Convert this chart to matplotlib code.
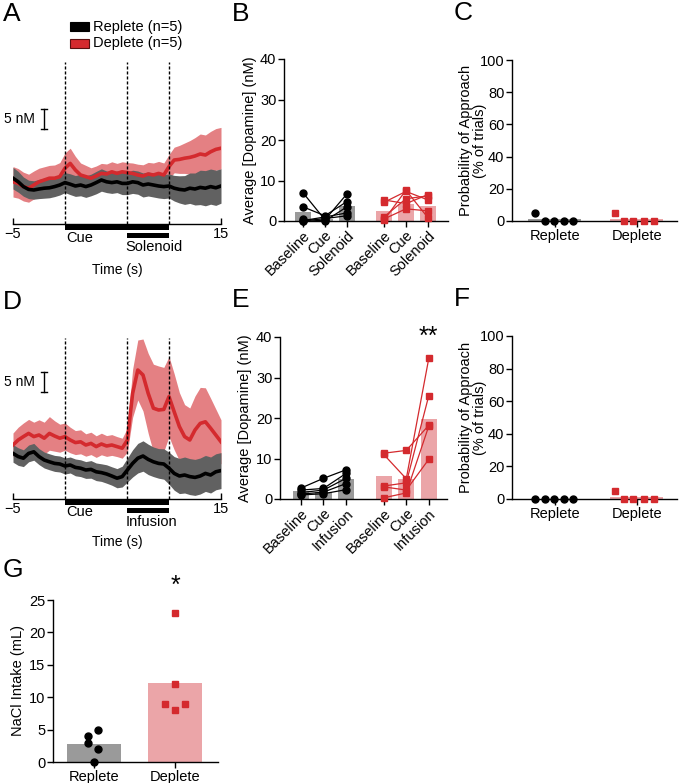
import numpy as np
import matplotlib
matplotlib.use('Agg')
import matplotlib.pyplot as plt
from matplotlib.patches import Rectangle

plt.rcParams['font.family'] = ['Liberation Sans', 'DejaVu Sans']
plt.rcParams['axes.linewidth'] = 1.0

# ---- trace data (nM, 0.5 s steps from -5 to 15 s) ----
t = np.linspace(-5, 15, 41)

a_rep = [1.7, 0.8, -0.4, -1.1, -1.25, -1.0, -0.8, -0.7, -0.4, 0.0,
         0.6, 0.2, -0.25, 0.0, -0.4, 0.0, 0.6, 1.25, 0.8, 0.6,
         0.8, 0.4, 0.4, 0.8, 0.6, 0.0, 0.25, 0.0, -0.25, -0.4,
         -0.25, -0.8, -1.1, -1.25, -0.8, -1.0, -0.6, -0.8, -0.4, -0.7, -0.25]
a_rep_sem = [2.7, 2.6, 2.4, 2.3, 2.3, 2.4, 2.5, 2.5, 2.5, 2.5,
             2.5, 2.6, 2.6, 2.7, 2.7, 2.7, 2.8, 2.8, 2.7, 2.7,
             2.7, 2.8, 2.8, 2.9, 2.9, 3.0, 3.0, 3.0, 3.0, 3.0,
             3.0, 3.2, 3.4, 3.6, 3.8, 4.0, 4.3, 4.4, 4.4, 4.4, 4.3]
a_dep = [0.8, 0.4, -0.4, -0.8, 0.0, 0.8, 1.25, 1.7, 1.7, 2.1,
         4.2, 5.4, 3.75, 2.5, 2.1, 1.7, 2.25, 2.9, 2.75, 3.3,
         2.9, 3.3, 3.1, 2.9, 2.5, 2.25, 2.75, 2.5, 2.9, 2.5,
         4.6, 6.25, 6.4, 6.7, 6.9, 7.25, 7.75, 7.5, 8.3, 8.9, 9.2]
a_dep_sem = [3.8, 3.7, 3.6, 3.5, 3.5, 3.4, 3.3, 3.2, 3.3, 3.5,
             3.8, 3.8, 3.4, 3.0, 2.8, 2.6, 2.5, 2.5, 2.5, 2.5,
             2.5, 2.5, 2.5, 2.6, 2.7, 2.8, 2.9, 3.0, 3.0, 3.0,
             3.0, 3.2, 3.5, 3.8, 4.2, 4.6, 5.0, 5.0, 5.1, 5.2, 5.2]

d_rep = [0.4, -0.4, -0.8, 0.4, 0.8, -0.4, -1.25, -1.7, -2.1, -2.25,
         -2.75, -2.5, -3.1, -3.3, -3.75, -3.6, -4.2, -4.4, -4.75, -5.25,
         -5.8, -5.4, -3.75, -2.1, -0.8, -0.25, -1.1, -1.7, -2.1, -2.25,
         -3.3, -4.6, -5.25, -5.0, -5.4, -5.6, -5.25, -4.6, -5.0, -4.2, -3.9]
d_rep_sem = [2.2, 2.2, 2.1, 2.1, 2.1, 2.0, 2.0, 2.0, 2.0, 2.0,
             2.0, 2.0, 2.1, 2.1, 2.1, 2.2, 2.2, 2.2, 2.3, 2.3,
             2.4, 2.6, 3.0, 3.4, 3.7, 3.8, 3.8, 3.7, 3.7, 3.8,
             4.0, 4.2, 4.4, 4.5, 4.5, 4.5, 4.5, 4.5, 4.5, 4.5, 4.5]
d_dep = [2.5, 3.75, 4.6, 5.4, 4.6, 5.0, 4.2, 5.4, 4.75, 4.2,
         4.6, 3.75, 3.1, 3.3, 2.5, 2.9, 2.1, 2.75, 2.25, 2.5,
         2.1, 1.7, 3.75, 15.4, 21.25, 20.0, 15.4, 11.7, 11.25, 11.4,
         14.6, 10.8, 7.1, 4.6, 3.75, 6.25, 7.9, 8.3, 6.7, 5.0, 3.3]
d_dep_sem = [3.0, 3.2, 3.4, 3.5, 3.6, 3.8, 4.0, 4.2, 3.8, 3.5,
             3.4, 3.2, 3.0, 3.0, 2.8, 2.8, 2.7, 2.7, 2.6, 2.6,
             2.5, 2.5, 3.0, 6.0, 7.5, 9.0, 10.0, 11.0, 11.0, 10.5,
             10.0, 9.5, 8.5, 8.0, 8.0, 8.5, 9.0, 8.5, 7.5, 6.5, 5.5]

# ---- epoch averages (nM), one row per animal: baseline, cue, outcome ----
b_rep = [[7.0, 0.3, 6.7], [3.5, 1.3, 4.8], [0.4, 0.0, 3.5], [0.1, 1.0, 2.0], [0.0, 0.6, 1.3]]
b_dep = [[5.2, 4.3, 6.5], [4.6, 7.3, 5.2], [0.2, 7.6, 0.8], [0.5, 3.0, 2.5], [1.0, 5.5, 6.2]]
b_rep_bar = [2.3, 0.6, 3.6]
b_dep_bar = [2.4, 4.3, 3.7]
b_labels = ['Baseline', 'Cue', 'Solenoid'] * 2

e_rep = [[2.7, 5.1, 7.2], [2.2, 2.6, 6.3], [1.6, 2.2, 5.1], [1.2, 1.7, 3.8], [1.0, 1.3, 2.3]]
e_dep = [[11.3, 12.0, 18.2], [11.0, 5.0, 34.7], [3.2, 4.0, 25.5], [3.0, 2.2, 9.8], [0.3, 1.5, 18.0]]
e_rep_bar = [1.9, 1.8, 4.9]
e_dep_bar = [5.8, 5.0, 19.8]
e_labels = ['Baseline', 'Cue', 'Infusion'] * 2

# ---- approach probability (% of trials) ----
groups = ['Replete', 'Deplete']
c_rep = [5, 0, 0, 0, 0]
c_dep = [5, 0, 0, 0, 0]
f_rep = [0, 0, 0, 0, 0]
f_dep = [5, 0, 0, 0, 0]
c_bar = [1, 1]
f_bar = [0, 1]
rep_jit = [-0.24, -0.12, -0.01, 0.11, 0.22]
dep_jit = [-0.27, -0.15, -0.04, 0.09, 0.21]

# ---- NaCl intake (mL) ----
g_rep = [4, 5, 3, 2, 0]
g_dep = [23, 12, 9, 9, 8]
g_bar = [2.8, 12.2]
g_rep_jit = [-0.075, 0.05, -0.075, 0.05, 0.0]
g_dep_jit = [0.0, 0.0, -0.12, 0.12, 0.0]

RED = '#D42A2E'
RED_BAND = '#E48083'
GREY_BAND = '#616161'
GREY_BAR = '#9A9A9A'
PINK_BAR = '#EBA5A8'
FS = 10.5

W, H = 679, 783
fig = plt.figure(figsize=(W / 100, H / 100), dpi=100)


def box(l, t_, r, b):
    return [l / W, 1 - b / H, (r - l) / W, (b - t_) / H]


def trace_panel(rect, blk, blk_sem, red, red_sem, ylim, outcome, lab_y, scale_y0):
    ax = fig.add_axes(rect)
    blk, blk_sem, red, red_sem = map(np.array, (blk, blk_sem, red, red_sem))
    ax.fill_between(t, red - red_sem, red + red_sem, color=RED_BAND, lw=0)
    ax.fill_between(t, blk - blk_sem, blk + blk_sem, color=GREY_BAND, lw=0)
    ax.plot(t, red, color=RED, lw=2.6)
    ax.plot(t, blk, color='k', lw=2.6)
    for x in [0, 6, 10]:
        ax.axvline(x, color='k', ls=(0, (2.2, 1.4)), lw=1)
    ax.set_xlim(-5, 15)
    ax.set_ylim(ylim)
    for s in ['left', 'top', 'right']:
        ax.spines[s].set_visible(False)
    ax.set_yticks([])
    ax.set_xticks([-5, 15])
    ax.set_xticklabels(['\u22125', '15'])
    ax.tick_params(axis='x', direction='in', length=4, width=1, pad=2, labelsize=FS)
    tr = ax.get_xaxis_transform()
    ax.add_patch(Rectangle((0, -0.038), 10, 0.038, transform=tr, clip_on=False, color='k', lw=0))
    ax.add_patch(Rectangle((6, -0.085), 4, 0.028, transform=tr, clip_on=False, color='k', lw=0))
    ax.text(0.1, lab_y[0], 'Cue', transform=tr, fontsize=FS, va='center', ha='left')
    ax.text(5.8, lab_y[1], outcome, transform=tr, fontsize=FS, va='center', ha='left')
    ax.text(5, lab_y[2], 'Time (s)', transform=tr, fontsize=FS - 0.5, va='center', ha='center')
    # 5 nM scale bar
    ax.plot([-2, -2], [scale_y0, scale_y0 + 5], color='k', lw=1)
    ax.plot([-2.3, -1.7], [scale_y0, scale_y0], color='k', lw=1)
    ax.plot([-2.3, -1.7], [scale_y0 + 5, scale_y0 + 5], color='k', lw=1)
    ax.text(-2.9, scale_y0 + 2.5, '5 nM', fontsize=FS - 0.5, ha='right', va='center')
    return ax


def style_axes(ax):
    for s in ['top', 'right']:
        ax.spines[s].set_visible(False)
    ax.tick_params(direction='out', length=4, width=1, labelsize=FS, pad=1.5)


def epoch_panel(rect, rep, dep, rep_bar, dep_bar, labels, xlim):
    ax = fig.add_axes(rect)
    pr = [0, 1, 2]
    pd_ = [3.68, 4.68, 5.68]
    ax.bar(pr, rep_bar, width=0.72, color=GREY_BAR, lw=0)
    ax.bar(pd_, dep_bar, width=0.72, color=PINK_BAR, lw=0)
    for s in rep:
        ax.plot(pr, s, '-o', color='k', ms=5, lw=0.9, clip_on=False, zorder=3)
    for s in dep:
        ax.plot(pd_, s, '-s', color=RED, ms=5, lw=0.9, clip_on=False, zorder=3)
    ax.set_xlim(xlim)
    ax.set_ylim(0, 40)
    ax.set_yticks([0, 10, 20, 30, 40])
    ax.set_xticks(pr + pd_)
    ax.set_xticklabels(labels, rotation=45, ha='right', va='top', rotation_mode='anchor')
    style_axes(ax)
    ax.set_ylabel('Average [Dopamine] (nM)', fontsize=FS)
    ax.yaxis.set_label_coords(-0.165, 0.5)
    return ax


def approach_panel(rect, rep, dep, bars):
    ax = fig.add_axes(rect)
    ax.bar([0, 1], bars, width=0.65, color=[GREY_BAR, PINK_BAR], lw=0)
    ax.plot(np.array(rep_jit), rep, 'o', color='k', ms=5, ls='none', clip_on=False, zorder=3)
    ax.plot(1 + np.array(dep_jit), dep, 's', color=RED, ms=5, ls='none', clip_on=False, zorder=3)
    ax.set_xlim(-0.52, 1.49)
    ax.set_ylim(0, 100)
    ax.set_yticks([0, 20, 40, 60, 80, 100])
    ax.set_xticks([0, 1])
    ax.set_xticklabels(groups)
    style_axes(ax)
    ax.tick_params(axis='x', pad=2)
    ax.set_ylabel('Probability of Approach\n(% of trials)', fontsize=FS, linespacing=1.05)
    ax.yaxis.set_label_coords(-0.15, 0.5)
    return ax


# A / D traces
trace_panel(box(13, 62, 221, 224), a_rep, a_rep_sem, a_dep, a_dep_sem,
            (-9.75, 30.75), 'Solenoid', (-0.087, -0.145, -0.285), 14)
trace_panel(box(13, 338, 221, 499), d_rep, d_rep_sem, d_dep, d_dep_sem,
            (-11, 29.25), 'Infusion', (-0.08, -0.143, -0.27), 15.75)

# legend (A)
fig.add_artist(Rectangle((70 / W, 1 - 31 / H), 19 / W, 9 / H, transform=fig.transFigure,
                         facecolor='k', edgecolor='k', lw=0.8))
fig.add_artist(Rectangle((70 / W, 1 - 48 / H), 19 / W, 9 / H, transform=fig.transFigure,
                         facecolor=RED, edgecolor='#5a1010', lw=0.8))
fig.text(93 / W, 1 - 26.5 / H, 'Replete (n=5)', fontsize=FS, va='center', ha='left')
fig.text(93 / W, 1 - 43.5 / H, 'Deplete (n=5)', fontsize=FS, va='center', ha='left')

# B / E
epoch_panel(box(284, 59, 448, 221), b_rep, b_dep, b_rep_bar, b_dep_bar, b_labels, (-0.86, 6.59))
axE = epoch_panel(box(280, 337, 447, 499), e_rep, e_dep, e_rep_bar, e_dep_bar, e_labels, (-0.93, 6.49))
axE.text(5.68, 40.0, '**', fontsize=18, ha='center', va='center')

# C / F
approach_panel(box(512, 60, 677, 221), c_rep, c_dep, c_bar)
approach_panel(box(512, 336, 677, 499), f_rep, f_dep, f_bar)

# G
axG = fig.add_axes(box(53, 600, 218, 762))
axG.bar([0, 1], g_bar, width=0.67, color=[GREY_BAR, PINK_BAR], lw=0)
axG.plot(np.array(g_rep_jit), g_rep, 'o', color='k', ms=5, ls='none', clip_on=False, zorder=3)
axG.plot(1 + np.array(g_dep_jit), g_dep, 's', color=RED, ms=5, ls='none', clip_on=False, zorder=3)
axG.set_xlim(-0.51, 1.53)
axG.set_ylim(0, 25)
axG.set_yticks([0, 5, 10, 15, 20, 25])
axG.set_xticks([0, 1])
axG.set_xticklabels(groups)
style_axes(axG)
axG.tick_params(axis='x', pad=2)
axG.set_ylabel('NaCl Intake (mL)', fontsize=FS)
axG.yaxis.set_label_coords(-0.17, 0.5)
axG.text(1, 27.2, '*', fontsize=18, ha='center', va='center')

# panel letters
for letter, x, y in [('A', 3, 2), ('B', 232, 2), ('C', 454, 1), ('D', 3, 290),
                     ('E', 232, 288), ('F', 454, 287), ('G', 3, 558)]:
    fig.text(x / W, 1 - y / H, letter, fontsize=19, va='top', ha='left')

fig.savefig('out.png', dpi=100)
